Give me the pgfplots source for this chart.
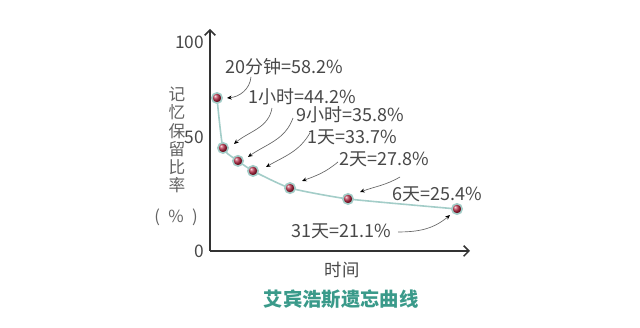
\documentclass[border=0pt]{standalone}
\usepackage{pgfplots}
\pgfplotsset{compat=1.18}
\usepackage{fontspec}
\setmainfont{Noto Sans CJK SC}
\usetikzlibrary{arrows.meta}
\definecolor{txt}{HTML}{484848}
\definecolor{ttl}{HTML}{3A9A8A}
\definecolor{crv}{HTML}{A3CDC8}
\definecolor{dot}{HTML}{B3243F}
\newcommand{\lbl}{\fontsize{13.5}{15}\selectfont}
\begin{document}
\begin{tikzpicture}
\useasboundingbox (0pt,0pt) rectangle (480pt,246pt);
\begin{axis}[
  at={(157.5pt,57.75pt)}, anchor=south west,
  scale only axis, width=195pt, height=166.5pt,
  xmin=210, xmax=470, ymin=0, ymax=106.2,
  axis lines=left,
  axis line style={line width=1.1pt, black!80},
  x axis line style={-{Straight Barb[length=4pt,width=8pt]}},
  y axis line style={-{Straight Barb[length=4pt,width=8pt]}},
  xtick=\empty,
  ytick={0,54.5,100}, yticklabels={0,50,100},
  major tick length=0pt,
  /pgf/number format/assume math mode=true,
  yticklabel style={font=\fontsize{13}{15}\selectfont, text=txt, xshift=-1pt},
  clip=false,
]
\addplot[crv, line width=1.2pt, smooth, tension=0.3, mark=ball, mark size=3.9pt,
  mark options={ball color=dot, draw=none}]
  coordinates {(217,73.2)(223,49.3)(238,43.1)(253,38.3)(290,30.1)(348,24.9)(457,20.1)};

\tikzset{arr/.style={black!60, line width=0.5pt, -{Stealth[length=3.5pt,width=3pt,black]}}}
\draw[arr] (axis cs:251,83.3) to[out=-95,in=5] (axis cs:227,73.2);
\draw[arr] (axis cs:272,68.4) to[out=-100,in=40] (axis cs:234,51.2);
\draw[arr] (axis cs:293,63.6) to[out=-110,in=35] (axis cs:248,45.0);
\draw[arr] (axis cs:310,56.5) to[out=-120,in=30] (axis cs:266,40.2);
\draw[arr] (axis cs:338,42.6) to[out=-140,in=20] (axis cs:302,33.5);
\draw[arr] (axis cs:400,35.4) to[out=-150,in=20] (axis cs:360,28.2);
\draw[arr] (axis cs:398,9.1) to[out=0,in=-140] (axis cs:450,17.2);

\node[font=\lbl, text=txt] at (axis cs:284,88.0) {20分钟=58.2\%};
\node[font=\lbl, text=txt] at (axis cs:302,73.7) {1小时=44.2\%};
\node[font=\lbl, text=txt] at (axis cs:350,65.1) {9小时=35.8\%};
\node[font=\lbl, text=txt] at (axis cs:352,54.5) {1天=33.7\%};
\node[font=\lbl, text=txt] at (axis cs:384,44.0) {2天=27.8\%};
\node[font=\lbl, text=txt] at (axis cs:437,27.3) {6天=25.4\%};
\node[font=\lbl, text=txt] at (axis cs:341,9.6) {31天=21.1\%};
\end{axis}
\node[font=\fontsize{13}{15}\selectfont, text=txt] at (256.5pt,43.5pt) {时间};
\node[font=\fontsize{14.5}{16}\selectfont\bfseries, text=ttl] at (255.75pt,21.75pt) {艾宾浩斯遗忘曲线};
\node[font=\fontsize{12.5}{13.6}\selectfont, text=txt!85, align=center] at (132.75pt,141pt) {记\\忆\\保\\留\\比\\率};
\node[font=\fontsize{12.5}{13.5}\selectfont, text=txt!85] at (132pt,83.25pt) {(\enspace\%\enspace)};
\end{tikzpicture}
\end{document}
